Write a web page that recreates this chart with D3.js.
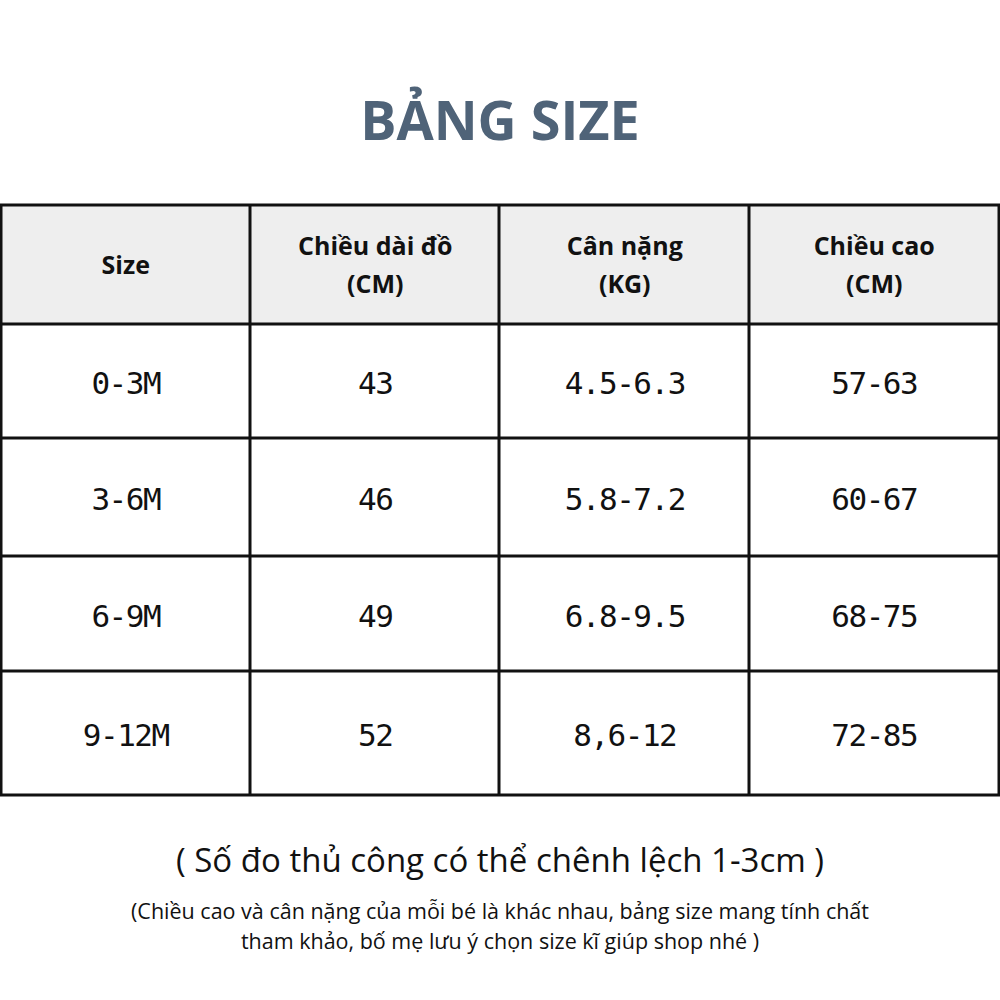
<!DOCTYPE html>
<html><head><meta charset="utf-8">
<script src="https://cdn.jsdelivr.net/npm/d3@7"></script>
<style>body{margin:0;background:#fff}</style></head>
<body><svg id="c" width="1000" height="1000"></svg>
<script>
const title = "BẢNG SIZE";
const headers = [["Size"],["Chiều dài đồ","(CM)"],["Cân nặng","(KG)"],["Chiều cao","(CM)"]];
const sizes = ["0-3M","3-6M","6-9M","9-12M"];
const lengths = ["43","46","49","52"];
const weights = ["4.5-6.3","5.8-7.2","6.8-9.5","8,6-12"];
const heights = ["57-63","60-67","68-75","72-85"];
const note = "( Số đo thủ công có thể chênh lệch 1-3cm )";
const note2 = ["(Chiều cao và cân nặng của mỗi bé là khác nhau, bảng size mang tính chất","tham khảo, bố mẹ lưu ý chọn size kĩ giúp shop nhé )"];

const svg = d3.select("#c");
svg.append("rect").attr("width",1000).attr("height",1000).attr("fill","#fff");
svg.append("text").attr("x",500).attr("y",140).attr("text-anchor","middle")
 .attr("font-family","Open Sans").attr("font-weight",700).attr("font-size",54)
 .attr("fill","#4f6378").text(title);

const x = d3.scaleBand().domain(d3.range(4)).range([1,999]);
const rowEdges = [205,324,438,556,671,795];
const y = d3.scaleOrdinal().domain(d3.range(5)).range(rowEdges.slice(0,5));
const rowH = i => rowEdges[i+1]-rowEdges[i];
const g = svg.append("g");
g.append("rect").attr("x",1).attr("y",205).attr("width",998).attr("height",119).attr("fill","#eeeeee");
headers.forEach((h,ci)=>{
  const cx = x(ci)+x.bandwidth()/2, cy = y(0)+rowH(0)/2;
  const t = g.append("text").attr("text-anchor","middle").attr("font-family","Open Sans")
   .attr("font-weight",700).attr("font-size",25).attr("fill","#111");
  h.forEach((line,li)=>{
    t.append("tspan").attr("x",cx).attr("y",cy+9+(li-(h.length-1)/2)*38).text(line);
  });
});
const cols = [sizes,lengths,weights,heights];
sizes.forEach((_,ri)=>{
  cols.forEach((col,ci)=>{
    g.append("text").attr("x",x(ci)+x.bandwidth()/2).attr("y",y(ri+1)+rowH(ri+1)/2+13)
     .attr("text-anchor","middle").attr("font-family","DejaVu Sans Mono").attr("font-size",31)
     .attr("letter-spacing",-1.5).attr("fill","#111").text(col[ri]);
  });
});
const lw=3;
rowEdges.forEach(yy=>g.append("line").attr("x1",0).attr("x2",1000).attr("y1",yy).attr("y2",yy).attr("stroke","#111").attr("stroke-width",lw));
[1,250,499,749,999].forEach(xx=>g.append("line").attr("x1",xx).attr("x2",xx).attr("y1",205).attr("y2",795).attr("stroke","#111").attr("stroke-width",lw));

svg.append("text").attr("x",500).attr("y",872).attr("text-anchor","middle")
 .attr("font-family","Open Sans").attr("font-size",33).attr("fill","#111").text(note);
note2.forEach((l,i)=>svg.append("text").attr("x",500).attr("y",919+i*30).attr("text-anchor","middle")
 .attr("font-family","Open Sans").attr("font-size",21.5).attr("fill","#111").text(l));
</script></body></html>
